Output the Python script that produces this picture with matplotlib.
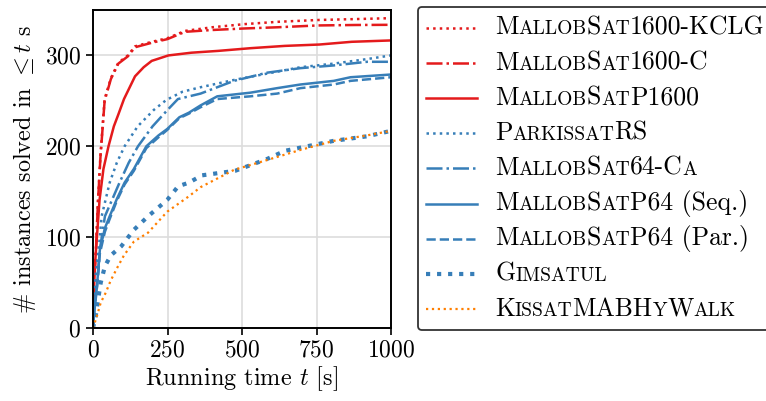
import matplotlib
matplotlib.use("Agg")
import matplotlib.pyplot as plt
from matplotlib.lines import Line2D
from matplotlib.offsetbox import (AnchoredOffsetbox, DrawingArea, HPacker,
                                  TextArea, VPacker)

plt.rcParams["font.family"] = "serif"
plt.rcParams["font.serif"] = ["cmr10"]
plt.rcParams["mathtext.fontset"] = "cm"
plt.rcParams["axes.formatter.use_mathtext"] = True

RED = "#e41a1c"
BLUE = "#377eb8"
ORANGE = "#ff7f00"

# -----------------------
# Data
# -----------------------

t_kclg = [0, 3, 7, 10, 17, 25, 39, 60, 85, 117, 141, 198, 250, 309, 400, 510, 620, 755, 880, 1000]
y_kclg = [0, 50, 70, 86, 141, 190, 252, 275, 292, 300, 310, 315, 319, 327, 331, 334.5, 337, 339, 340, 341]

t_c = [0, 3, 7, 10, 17, 25, 39, 60, 85, 117, 141, 198, 250, 309, 400, 510, 620, 755, 880, 1000]
y_c = [0, 48, 68, 86, 141, 188, 250, 274, 291, 299, 309, 314, 318, 326, 328, 329.7, 331, 333, 333.5, 333.7]

t_p1600 = [0, 3, 6, 10, 22, 35, 52, 70, 85, 104, 141, 170, 197, 253, 330, 420, 530, 644, 760, 868, 1000]
y_p1600 = [0, 40, 65, 86, 141, 175, 200, 222, 235, 252, 277, 287, 294, 300, 303, 305, 308, 310.5, 312, 315, 316.5]

t_prs = [0, 5, 10, 19, 29, 56, 80, 106, 150, 204, 246, 300, 361, 473, 584, 696, 808, 920, 1000]
y_prs = [0, 40, 62, 86, 123, 160, 182, 200, 222, 240, 251, 260, 265, 273, 280, 287, 291, 296, 300]

t_ca = [0, 5, 14, 23, 40, 89, 120, 151, 200, 250, 285, 361, 473, 584, 696, 808, 920, 1000]
y_ca = [0, 25, 49, 86, 123, 160, 182, 200, 222, 240, 252, 258, 272, 281, 286, 289, 293, 293]

t_seq = [0, 5, 14, 23, 40, 56, 80, 106, 137, 179, 220, 249, 290, 322, 361, 417, 528, 618, 696, 808, 864, 1000]
y_seq = [0, 22, 49, 86, 110, 123, 142, 160, 175, 200, 212, 219, 232, 237, 245, 255, 259, 264, 268, 272, 276, 279]

t_par = [0, 5, 14, 23, 40, 56, 80, 106, 137, 179, 220, 249, 290, 322, 361, 417, 528, 618, 696, 808, 864, 1000]
y_par = [0, 20, 46, 82, 106, 120, 140, 158, 173, 198, 210, 218, 231, 236, 243, 252, 255, 258, 264, 268, 272, 276]

t_gim = [0, 9, 17, 26, 40, 60, 95, 137, 185, 249, 286, 322, 365, 477, 584, 644, 808, 920, 1000]
y_gim = [0, 13, 31, 50, 68, 80, 90, 108, 123, 141, 156, 160, 168, 173, 186, 195, 206, 211, 217]

t_kis = [0, 5, 13, 26, 43, 59, 84, 104, 137, 185, 249, 322, 361, 473, 555, 696, 808, 920, 1000]
y_kis = [0, 5, 13, 28, 39, 52, 68, 80, 95, 105, 128, 145, 155, 174, 182, 196, 206, 212, 217]

# label markup: text in braces is set in small caps
labels = [
    "M{allob}S{at}1600-KCLG",
    "M{allob}S{at}1600-C",
    "M{allob}S{at}P1600",
    "P{arkissat}RS",
    "M{allob}S{at}64-C{a}",
    "M{allob}S{at}P64 (Seq.)",
    "M{allob}S{at}P64 (Par.)",
    "G{imsatul}",
    "K{issat}MABH{y}W{alk}",
]

series = [
    (t_kclg, y_kclg, dict(color=RED, ls=":", lw=1.8)),
    (t_c, y_c, dict(color=RED, ls="-.", lw=1.8)),
    (t_p1600, y_p1600, dict(color=RED, ls="-", lw=1.8)),
    (t_prs, y_prs, dict(color=BLUE, ls=":", lw=1.8)),
    (t_ca, y_ca, dict(color=BLUE, ls="-.", lw=1.8)),
    (t_seq, y_seq, dict(color=BLUE, ls="-", lw=1.8)),
    (t_par, y_par, dict(color=BLUE, ls="--", lw=1.8)),
    (t_gim, y_gim, dict(color=BLUE, ls=":", lw=3.0)),
    (t_kis, y_kis, dict(color=ORANGE, ls=":", lw=1.6)),
]

# -----------------------
# Plot
# -----------------------

fig = plt.figure(figsize=(7.66, 4.01), dpi=100)
ax = fig.add_axes([93 / 766, 73 / 401, 298 / 766, 318 / 401])

for t, y, style in series:
    ax.plot(t, y, **style)

ax.set_xlim(0, 1000)
ax.set_ylim(0, 350)
ax.set_xticks([0, 250, 500, 750, 1000])
ax.set_yticks([0, 100, 200, 300])
ax.grid(True, color="#dddddd", lw=1.2)
ax.set_axisbelow(True)
ax.tick_params(labelsize=17, width=1.2, length=5)
for sp in ax.spines.values():
    sp.set_linewidth(1.4)

ax.set_xlabel(r"Running time $t$ [s]", fontsize=17.5, labelpad=2)
ax.set_ylabel(r"# instances solved in $\leq t$ s", fontsize=17.5, labelpad=5)

# -----------------------
# Legend with small caps
# -----------------------

FS = 18.5
SC = 0.76 * FS


def label_box(markup):
    parts = []
    buf = ""
    small = False
    for ch in markup + "\0":
        if ch in "{}\0":
            if buf:
                size = SC if small else FS
                txt = buf.upper() if small else buf
                parts.append(TextArea(txt, textprops=dict(fontsize=size)))
            buf = ""
            small = ch == "{"
        else:
            buf += ch
    # invisible strut so every row has the same height
    parts.append(TextArea("(", textprops=dict(fontsize=FS, alpha=0)))
    return HPacker(children=parts, align="baseline", pad=0, sep=0)


rows = []
for (t, y, style), lab in zip(series, labels):
    da = DrawingArea(37, 14, 0, 0)
    da.add_artist(Line2D([0, 37], [7, 7], **style))
    rows.append(HPacker(children=[da, label_box(lab)], align="center", pad=0, sep=13))

box = VPacker(children=rows, align="left", pad=0, sep=6.0)
anchored = AnchoredOffsetbox(loc="upper left", child=box, pad=0.55, borderpad=0,
                             frameon=True, bbox_to_anchor=(418 / 766, 1 - 7 / 401),
                             bbox_transform=fig.transFigure)
anchored.patch.set_boxstyle("round,pad=0,rounding_size=0.3")
anchored.patch.set_edgecolor("#333333")
anchored.patch.set_linewidth(1.3)
fig.add_artist(anchored)

fig.savefig("out.png", dpi=100)
